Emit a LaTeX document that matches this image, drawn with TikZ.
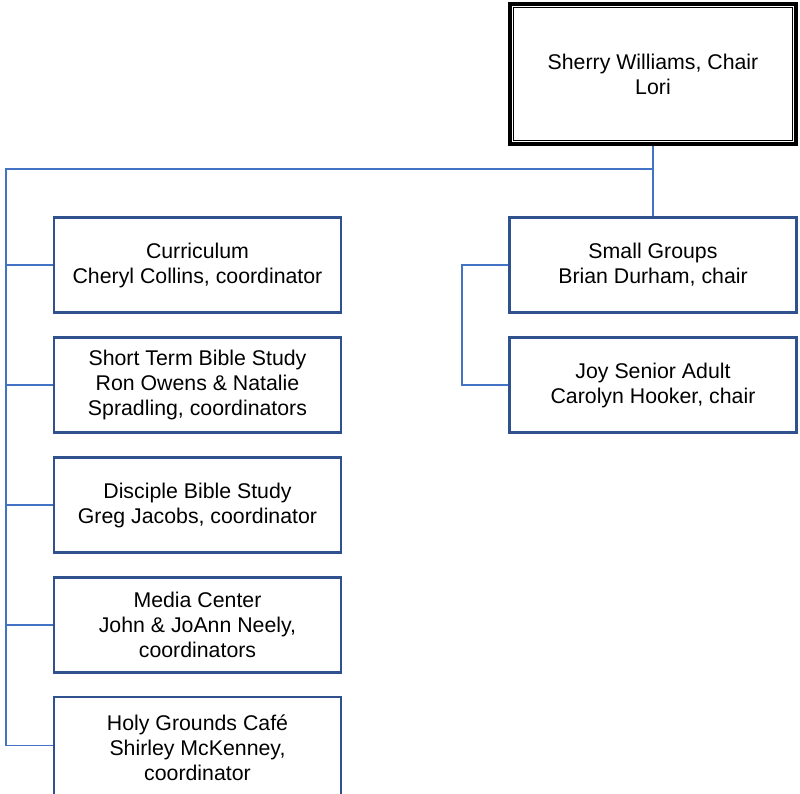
\documentclass[tikz,border=0pt]{standalone}
\usepackage{fontspec}
\setmainfont{Liberation Sans}
\definecolor{boxblue}{RGB}{47,82,143}
\definecolor{linkblue}{RGB}{68,114,196}
\begin{document}
\begin{tikzpicture}[x=1pt,y=1pt,
  unit/.style={draw=boxblue, line width=2.5pt, fill=white, minimum width=287pt, minimum height=95pt,
    inner sep=0pt, align=center, font=\fontsize{21.3}{25}\selectfont},
  link/.style={draw=linkblue, line width=1.5pt}]
\useasboundingbox (0,0) rectangle (800,-793);
% top box
\node[draw=black, line width=4pt, minimum width=286pt, minimum height=140pt, inner sep=0pt,
  align=center, font=\fontsize{21.3}{25}\selectfont] (top) at (653,-74) {Sherry Williams, Chair\\Lori};
\draw[black, line width=1.5pt] ([shift={(5.5,5.5)}]top.south west) rectangle ([shift={(-5.5,-5.5)}]top.north east);
% left boxes
\node[unit] (cur) at (197.5,-265) {Curriculum\\Cheryl Collins, coordinator};
\node[unit] (stb) at (197.5,-385) {Short Term Bible Study\\Ron Owens \& Natalie\\Spradling, coordinators};
\node[unit] (dbs) at (197.5,-505) {Disciple Bible Study\\Greg Jacobs, coordinator};
\node[unit] (med) at (197.5,-625) {Media Center\\John \& JoAnn Neely,\\coordinators};
\node[unit, minimum height=101pt] (hgc) at (197.5,-747.5) {Holy Grounds Café\\Shirley McKenney,\\coordinator};
% right boxes
\node[unit] (sg) at (653,-265) {Small Groups\\Brian Durham, chair};
\node[unit] (joy) at (653,-385) {Joy Senior Adult\\Carolyn Hooker, chair};
% coordinates
\coordinate (jt) at (653,-169);
\coordinate (lt) at (6,-169);
\coordinate (lb) at (6,-745.5);
\coordinate (rt) at (462,-265);
% connectors
\draw[link] (top.south) -- (sg.north);
\draw[link] (jt) -- (lt) -- (lb);
\foreach \n in {cur,stb,dbs,med}{
  \draw[link] (lt |- \n.west) -- (\n.west);
}
\draw[link] (lb) -- (lb -| hgc.west);
\draw[link] (sg.west) -- (rt) |- (joy.west);
\end{tikzpicture}
\end{document}
